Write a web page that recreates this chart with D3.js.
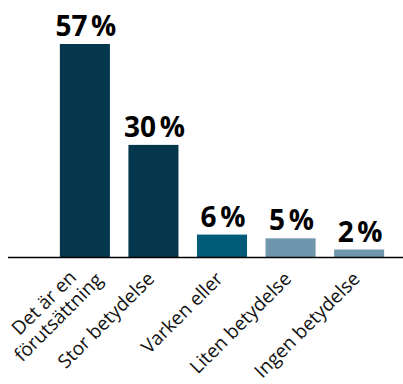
<!DOCTYPE html>
<html>
<head>
<meta charset="utf-8">
<script src="https://cdn.jsdelivr.net/npm/d3@7"></script>
<style>
  body { margin: 0; background: #fff; }
  svg { display: block; }
</style>
</head>
<body>
<svg id="chart"></svg>
<script>
// data
const categories = [["Det är en", "förutsättning"], ["Stor betydelse"], ["Varken eller"], ["Liten betydelse"], ["Ingen betydelse"]];
const values = [57, 30, 6, 5, 2];
const valueLabels = ["57\u202F%", "30\u202F%", "6\u202F%", "5\u202F%", "2\u202F%"];
const barColors = ["#04364c", "#04364c", "#005b78", "#6e97ad", "#6e97ad"];

const width = 403;
const height = 384;
const baseY = 257;
const svg = d3.select("#chart")
  .attr("width", width)
  .attr("height", height);

const x = d3.scaleBand()
  .domain(d3.range(values.length))
  .range([53, 391])
  .paddingInner(0.27)
  .paddingOuter(0.1);

const y = d3.scaleLinear()
  .domain([0, 57])
  .range([baseY, 44]);

svg.selectAll("rect.bar")
  .data(values)
  .join("rect")
  .attr("class", "bar")
  .attr("x", (d, i) => x(i))
  .attr("y", d => y(d))
  .attr("width", x.bandwidth())
  .attr("height", d => baseY - y(d))
  .attr("fill", (d, i) => barColors[i]);

svg.selectAll("text.val")
  .data(values)
  .join("text")
  .attr("class", "val")
  .attr("x", (d, i) => x(i) + x.bandwidth() / 2 + 1)
  .attr("y", d => y(d) - 8)
  .attr("text-anchor", "middle")
  .style("font-family", "'Open Sans', sans-serif")
  .style("font-weight", "bold")
  .style("font-size", "28px")
  .style("fill", "#000")
  .text((d, i) => valueLabels[i]);

// axis line
svg.append("line")
  .attr("x1", 8)
  .attr("x2", width)
  .attr("y1", baseY + 0.5)
  .attr("y2", baseY + 0.5)
  .attr("stroke", "#000")
  .attr("stroke-width", 1.5);

const lineH = 20.5;
// anchor = baseline end of the last line
const labels = svg.selectAll("g.xlab")
  .data(categories)
  .join("g")
  .attr("class", "xlab")
  .attr("transform", (d, i) => {
    const c = x(i) + x.bandwidth() / 2;
    return d.length > 1
      ? `translate(${c + 19}, 281) rotate(-45)`
      : `translate(${c + 2}, 280) rotate(-45)`;
  });

const labelText = labels.append("text")
  .attr("text-anchor", "middle")
  .style("font-family", "'Open Sans', sans-serif")
  .style("font-size", "19px")
  .style("fill", "#111");

labelText.selectAll("tspan")
  .data(d => d.map((t, j) => ({ t, j, n: d.length })))
  .join("tspan")
  .attr("y", d => (d.j - (d.n - 1)) * lineH)
  .text(d => d.t);

// block is right-aligned to the tick, lines centred inside it
labelText.each(function() {
  const spans = d3.select(this).selectAll("tspan");
  let maxW = 0;
  spans.each(function() { maxW = Math.max(maxW, this.getComputedTextLength()); });
  spans.attr("x", -maxW / 2);
});
</script>
</body>
</html>
